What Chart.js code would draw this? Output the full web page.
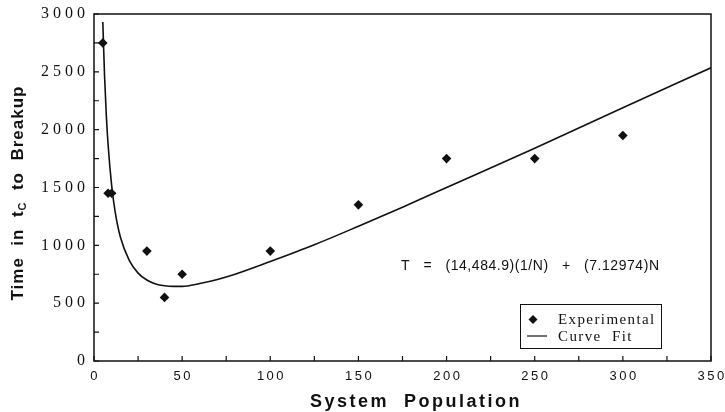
<!DOCTYPE html>
<html>
<head>
<meta charset="utf-8">
<script src="https://cdn.jsdelivr.net/npm/chart.js@4/dist/chart.umd.min.js"></script>
<style>
  html, body { margin: 0; padding: 0; background: #fff; }
  canvas { display: block; }
</style>
</head>
<body>
<canvas id="myChart" width="725" height="412"></canvas>
<script>
// experimental points
const expN = [5, 8, 10, 30, 40, 50, 100, 150, 200, 250, 300];
const expT = [2750, 1450, 1450, 950, 550, 750, 950, 1350, 1750, 1750, 1950];

// curve fit
const curveN = [5, 6, 7, 8, 10, 12, 15, 20, 25, 30, 35, 40, 45, 50, 60, 70, 80, 100, 125, 150, 175, 200, 250, 300, 350];
const curveT = [2930, 2460, 2120, 1870, 1520, 1290, 1070, 870, 760, 700, 665, 650, 645, 645, 670, 705, 750, 860, 1005, 1165, 1330, 1500, 1840, 2190, 2535];

const xTickLabels = ['0', '50', '100', '150', '200', '250', '300', '350'];
const yTickLabels = ['0', '500', '1000', '1500', '2000', '2500', '3000'];

const legendLabels = ['Experimental', 'Curve  Fit'];
const equation = 'T   =   (14,484.9)(1/N)   +   (7.12974)N';

const toXY = (xs, ys) => xs.map((x, i) => ({x: x, y: ys[i]}));

// draws frame, inward ticks, labels, titles, legend
const decor = {
    id: 'decor',
    afterDraw(chart) {
        const ctx = chart.ctx;
        const a = chart.chartArea;
        const xs = chart.scales.x;
        const ys = chart.scales.y;
        ctx.save();
        ctx.strokeStyle = '#111';
        ctx.fillStyle = '#111';

        // frame
        ctx.lineWidth = 1.5;
        ctx.strokeRect(a.left, a.top, a.right - a.left, a.bottom - a.top);

        // inward tick marks
        ctx.lineWidth = 1.2;
        ctx.beginPath();
        xs.ticks.forEach(t => {
            const px = xs.getPixelForValue(t.value);
            ctx.moveTo(px, a.bottom);
            ctx.lineTo(px, a.bottom - 5);
        });
        ys.ticks.forEach(t => {
            const py = ys.getPixelForValue(t.value);
            ctx.moveTo(a.left, py);
            ctx.lineTo(a.left + 5, py);
        });
        ctx.stroke();

        // y tick labels
        ctx.font = '16px "Liberation Serif"';
        ctx.letterSpacing = '4px';
        ctx.textAlign = 'right';
        ctx.textBaseline = 'middle';
        yTickLabels.forEach(l => {
            ctx.fillText(l, a.left - 5, ys.getPixelForValue(Number(l)));
        });

        // x tick labels
        ctx.font = '13px "Liberation Sans"';
        ctx.letterSpacing = '2.5px';
        ctx.textAlign = 'center';
        xTickLabels.forEach(l => {
            ctx.fillText(l, xs.getPixelForValue(Number(l)) + 1.2, a.bottom + 15);
        });

        // x title
        ctx.font = 'bold 18px "Liberation Sans"';
        ctx.letterSpacing = '2.5px';
        ctx.textAlign = 'left';
        ctx.fillText('System  Population', 310, 402);

        // y title with subscript
        ctx.save();
        ctx.translate(18, 193);
        ctx.rotate(-Math.PI / 2);
        ctx.letterSpacing = '1px';
        const big = 'bold 17px "Liberation Sans"';
        const small = 'bold 11px "Liberation Sans"';
        const parts = [['Time  in  t', big, 0], ['C', small, 5], ['  to  Breakup', big, 0]];
        let w = 0;
        parts.forEach(p => { ctx.font = p[1]; w += ctx.measureText(p[0]).width; });
        let cx = -w / 2;
        parts.forEach(p => {
            ctx.font = p[1];
            ctx.fillText(p[0], cx, p[2]);
            cx += ctx.measureText(p[0]).width;
        });
        ctx.restore();

        // equation
        ctx.font = '14px "Liberation Sans"';
        ctx.letterSpacing = '0.55px';
        ctx.textAlign = 'left';
        ctx.fillText(equation, 401, 266);

        // legend
        ctx.letterSpacing = '0px';
        ctx.lineWidth = 1;
        ctx.strokeRect(520.5, 304.5, 141, 44);
        ctx.beginPath();
        ctx.moveTo(533, 315);
        ctx.lineTo(537.5, 319.5);
        ctx.lineTo(533, 324);
        ctx.lineTo(528.5, 319.5);
        ctx.closePath();
        ctx.fill();
        ctx.lineWidth = 1.2;
        ctx.beginPath();
        ctx.moveTo(527, 336);
        ctx.lineTo(547, 336);
        ctx.stroke();
        ctx.font = '15px "Liberation Serif"';
        ctx.letterSpacing = '1.4px';
        ctx.fillText(legendLabels[0], 558, 320);
        ctx.fillText(legendLabels[1], 558, 337);

        ctx.restore();
    }
};

const chartArea = document.getElementById('myChart');
const chart = new Chart(chartArea, {
    type: 'scatter',
    data: {
        datasets: [{
            label: legendLabels[0],
            data: toXY(expN, expT),
            pointStyle: 'rectRot',
            pointRadius: 4.8,
            backgroundColor: '#111',
            borderColor: '#111',
            borderWidth: 0,
            order: 1
        }, {
            label: legendLabels[1],
            data: toXY(curveN, curveT),
            showLine: true,
            pointRadius: 0,
            borderColor: '#111',
            borderWidth: 1.6,
            cubicInterpolationMode: 'monotone',
            tension: 0.4,
            order: 2
        }]
    },
    options: {
        responsive: false,
        animation: false,
        devicePixelRatio: 1,
        layout: { padding: { top: 14, right: 14, left: 0, bottom: 0 } },
        plugins: { legend: { display: false }, tooltip: { enabled: false } },
        scales: {
            x: {
                type: 'linear', min: 0, max: 350,
                ticks: { stepSize: 25, display: false },
                grid: { display: false },
                border: { display: false },
                afterFit: s => { s.height = 51; }
            },
            y: {
                type: 'linear', min: 0, max: 3000,
                ticks: { stepSize: 250, display: false },
                grid: { display: false },
                border: { display: false },
                afterFit: s => { s.width = 94; }
            }
        }
    },
    plugins: [decor]
});
</script>
</body>
</html>
